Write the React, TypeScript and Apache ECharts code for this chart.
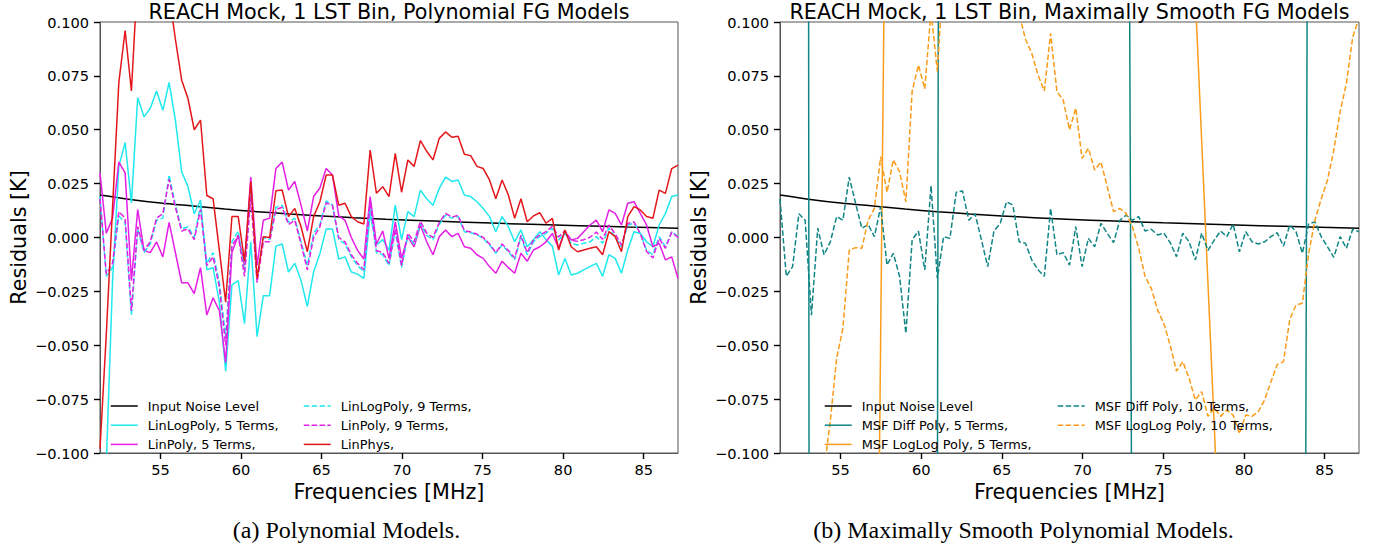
import React, { useEffect, useRef } from "react";
import * as echarts from "echarts";

// Frequency grid [MHz]
const freq = [
  51.25, 51.64, 52.03, 52.42, 52.81, 53.2, 53.59, 53.98, 54.37, 54.76,
  55.15, 55.54, 55.93, 56.32, 56.71, 57.1, 57.49, 57.88, 58.27, 58.66,
  59.05, 59.44, 59.83, 60.22, 60.61, 61.0, 61.39, 61.78, 62.17, 62.56,
  62.95, 63.34, 63.73, 64.12, 64.51, 64.9, 65.29, 65.68, 66.07, 66.46,
  66.85, 67.24, 67.63, 68.02, 68.41, 68.8, 69.19, 69.58, 69.97, 70.36,
  70.75, 71.14, 71.53, 71.92, 72.31, 72.7, 73.09, 73.48, 73.87, 74.26,
  74.65, 75.04, 75.43, 75.82, 76.21, 76.6, 76.99, 77.38, 77.77, 78.16,
  78.55, 78.94, 79.33, 79.72, 80.11, 80.5, 80.89, 81.28, 81.67, 82.06,
  82.45, 82.84, 83.23, 83.62, 84.01, 84.4, 84.79, 85.18, 85.57, 85.96,
  86.35, 86.74, 87.13,
];

// Input noise level (smooth curve)
const noiseFreq = [51.25, 53, 55, 57, 59, 61, 63, 65, 67, 69, 72, 75, 78, 81, 84, 87.13];
const noiseLevel = [0.0197, 0.0178, 0.016, 0.0146, 0.0132, 0.012, 0.0109, 0.01, 0.0092, 0.0085, 0.0076, 0.0068, 0.0061, 0.0055, 0.0049, 0.0043];

// Panel (a)
const linLogPoly5 = [
  -0.19, -0.105, -0.02, 0.033, 0.044, 0.016, 0.065, 0.056, 0.06, 0.068,
  0.059, 0.072, 0.0545, 0.0305, 0.0236, 0.011, 0.0174, -0.015, -0.014, -0.03,
  -0.062, -0.022, -0.02, -0.04, -0.002, -0.046, -0.027, -0.027, -0.004, -0.003,
  -0.016, -0.012, -0.02, -0.032, -0.016, -0.0075, 0.004, 0.004, -0.01, -0.009,
  -0.016, -0.017, -0.019, 0.011, -0.0035, -0.001, -0.006, 0.015, -0.001, 0.012,
  0.0097, 0.022, 0.018, 0.015, 0.0228, 0.028, 0.026, 0.0267, 0.0197, 0.019,
  0.0166, 0.0135, 0.0097, 0.0027, 0.0097, 0.005, -0.002, 0.0035, -0.0043, -0.001,
  0.0027, -0.001, -0.004, -0.0174, -0.0097, -0.0174, -0.0166, -0.015, -0.0135, -0.012,
  -0.018, -0.008, -0.0097, -0.0166, -0.0058, 0.0027, 0.0019, -0.002, -0.0043, 0.0058,
  0.0112, 0.019, 0.0197,
];
const linPoly5 = [
  0.03, 0.002, 0.009, 0.035, 0.03, -0.02, 0.013, -0.006, -0.007, -0.002,
  -0.009, 0.007, -0.007, -0.021, -0.021, -0.026, -0.014, -0.036, -0.028, -0.034,
  -0.058, -0.007, 0.001, -0.013, 0.028, -0.013, 0.008, 0.009, 0.032, 0.035,
  0.022, 0.026, 0.015, 0.003, 0.019, 0.023, 0.032, 0.029, 0.01, 0.008,
  0.0, -0.006, -0.01, 0.019, -0.003, 0.003, -0.0097, 0.0073, -0.0097, 0.0004,
  -0.0043, 0.0058, -0.002, -0.008, 0.0004, 0.0035, 0.0004, 0.0019, -0.0043, -0.005,
  -0.008, -0.0097, -0.0135, -0.0166, -0.011, -0.014, -0.0166, -0.0073, -0.011, -0.0058,
  -0.0043, -0.002, 0.0019, -0.005, 0.0027, -0.0012, -0.0004, 0.0027, 0.0058, 0.0081,
  0.0027, 0.0128, 0.0112, 0.0058, 0.0159, 0.0166, 0.0112, 0.0058, -0.0043, -0.0027,
  -0.0104, -0.009, -0.019,
];
const linLogPoly9 = [
  0.019, -0.018, -0.014, 0.01, 0.007, -0.036, 0.004, -0.007, -0.003, 0.008,
  0.009, 0.029, 0.015, 0.004, 0.005, 0.0, 0.015, -0.012, -0.007, -0.021,
  -0.046, -0.002, 0.003, -0.016, 0.021, -0.019, 0.0, -0.001, 0.014, 0.015,
  0.007, 0.009, -0.002, -0.013, 0.002, 0.006, 0.017, 0.015, -0.001, -0.003,
  -0.009, -0.013, -0.016, 0.015, -0.007, -0.008, -0.013, 0.003, -0.014, 0.001,
  -0.003, 0.0066, 0.001, -0.001, 0.006, 0.0104, 0.009, 0.0097, 0.0027, 0.0022,
  0.0012, -0.0004, -0.0035, -0.0073, -0.0035, -0.0066, -0.0104, 0.0004, -0.008, -0.002,
  0.0004, 0.0019, 0.0043, -0.0012, 0.0019, -0.0027, -0.0035, -0.0027, -0.002, 0.0004,
  -0.0027, 0.0043, 0.0004, -0.0043, 0.0058, 0.0066, 0.0019, -0.0058, -0.008, 0.0004,
  -0.0043, 0.0027, 0.0004,
];
const linPoly9 = [
  0.018, -0.017, -0.012, 0.012, 0.009, -0.034, 0.005, -0.006, -0.002, 0.009,
  0.011, 0.027, 0.014, 0.003, 0.004, -0.001, 0.013, -0.013, -0.009, -0.023,
  -0.05, -0.004, 0.001, -0.018, 0.019, -0.021, -0.002, -0.002, 0.013, 0.014,
  0.006, 0.008, -0.003, -0.015, 0.0, 0.005, 0.016, 0.015, 0.0, -0.002,
  -0.008, -0.012, -0.015, 0.016, -0.006, -0.007, -0.012, 0.004, -0.013, 0.002,
  -0.002, 0.0075, 0.002, 0.0, 0.007, 0.0112, 0.0095, 0.0102, 0.0032, 0.0026,
  0.0015, 0.0, -0.003, -0.007, -0.003, -0.006, -0.0095, 0.001, -0.007, -0.001,
  0.0012, 0.0027, 0.0052, 0.0002, 0.0032, -0.0012, -0.0018, -0.001, 0.0001, 0.0025,
  -0.0008, 0.0058, 0.0017, -0.0035, 0.0066, 0.0072, 0.0018, -0.0065, -0.0095, -0.0005,
  -0.005, 0.0025, 0.0,
];
const linPhys = [
  -0.098, -0.045, 0.014, 0.072, 0.096, 0.068, 0.122, 0.15, 0.16, 0.155,
  0.135, 0.113, 0.092, 0.073, 0.0645, 0.05, 0.0545, 0.0195, 0.018, -0.006,
  -0.03, 0.0097, 0.0097, -0.011, 0.026, -0.019, 0.0004, 0.0, 0.0217, 0.022,
  0.0097, 0.0135, 0.005, -0.0066, 0.0097, 0.0166, 0.029, 0.029, 0.015, 0.0159,
  0.0097, 0.0073, 0.0063, 0.0406, 0.0205, 0.0236, 0.019, 0.039, 0.021, 0.036,
  0.033, 0.045, 0.04, 0.036, 0.046, 0.049, 0.0465, 0.047, 0.0386, 0.038,
  0.033, 0.032, 0.0267, 0.018, 0.0267, 0.0197, 0.0089, 0.018, 0.0073, 0.01,
  0.0115, 0.0066, 0.0089, -0.0058, 0.0035, -0.0043, -0.0066, -0.0058, -0.005, -0.0043,
  -0.008, 0.0027, 0.0004, -0.0066, 0.0097, 0.0143, 0.0128, 0.0097, 0.0089, 0.022,
  0.0205, 0.032, 0.0336,
];

// Panel (b)
const msfDiff5 = [
  22, 15, 9.5, 5.0, 1.74, -1.26, -4.0, -6.5, -8.6, -10.4,
  -11.8, -12.8, -13.4, -13.6, -13.4, -12.9, -12.1, -11.1, -9.9, -8.6,
  -7.2, -5.9, -4.7, -3.6, -2.6, -0.144, 1.456, 3.0, 4.4, 5.7,
  6.8, 7.8, 8.6, 9.3, 9.8, 10.1, 10.3, 10.3, 10.1, 9.8,
  9.4, 8.9, 8.3, 7.6, 6.9, 6.1, 5.3, 4.5, 3.8, 3.3,
  2.8, 2.3, 1.8, 1.5, 1.26, 0.518, -0.222, -0.96, -1.7, -2.4,
  -3.0, -3.6, -4.1, -4.5, -4.8, -5.0, -5.1, -5.1, -5.05, -4.95,
  -4.8, -4.6, -4.4, -4.15, -3.9, -3.6, -3.3, -3.0, -2.7, -2.4,
  -2.05, -1.6, -1.15, -0.63, 0.34, 1.3, 2.3, 3.3, 4.4, 5.5,
  6.7, 7.9, 9.2,
];
const msfLogLog5 = [
  -3.92, -3.74, -3.55, -3.35, -3.15, -2.94, -2.72, -2.5, -2.25, -2.0,
  -1.75, -1.48, -1.2, -0.92, -0.63, -0.337, -0.044, 0.244, 0.52, 0.78,
  1.02, 1.24, 1.44, 1.62, 1.78, 1.92, 2.04, 2.14, 2.22, 2.28,
  2.32, 2.34, 2.35, 2.34, 2.31, 2.27, 2.21, 2.14, 2.06, 1.97,
  1.87, 1.77, 1.66, 1.55, 1.44, 1.33, 1.22, 1.11, 1.01, 0.91,
  0.82, 0.73, 0.65, 0.58, 0.51, 0.45, 0.4, 0.36, 0.33, 0.3,
  0.28, 0.26, 0.24, 0.22, 0.2, 0.178, 0.1113, 0.045, -0.0212, -0.0874,
  -0.154, -0.23, -0.32, -0.42, -0.53, -0.65, -0.78, -0.92, -1.07, -1.23,
  -1.4, -1.58, -1.77, -1.97, -2.18, -2.4, -2.63, -2.87, -3.12, -3.38,
  -3.65, -3.93, -4.22,
];
const msfDiff10 = [
  0.018, -0.018, -0.0135, 0.011, 0.008, -0.036, 0.0043, -0.008, -0.002, 0.0097,
  0.008, 0.028, 0.016, 0.0043, 0.006, 0.0004, 0.0143, -0.0128, -0.0073, -0.018,
  -0.0445, -0.001, 0.003, -0.015, 0.024, -0.019, 0.0004, -0.0004, 0.021, 0.0216,
  0.008, 0.011, -0.001, -0.0135, 0.003, 0.0066, 0.0166, 0.015, -0.002, -0.0027,
  -0.0104, -0.015, -0.018, 0.0135, -0.008, -0.007, -0.0128, 0.005, -0.0135, -0.0004,
  -0.0043, 0.0066, 0.002, -0.0024, 0.008, 0.0104, 0.008, 0.0097, 0.003, 0.0038,
  0.0012, 0.002, -0.0024, -0.0089, 0.002, -0.002, -0.0104, 0.002, -0.006, -0.0012,
  0.003, 0.0004, 0.0062, -0.0066, 0.0027, -0.002, -0.003, -0.002, 0.0004, 0.0022,
  -0.004, 0.0058, 0.0027, -0.0073, 0.0062, 0.0073, 0.0004, -0.0043, -0.0092, 0.0004,
  -0.005, 0.0038, 0.0027,
];
const msfLogLog10 = [
  -0.34, -0.3, -0.26, -0.22, -0.19, -0.16, -0.13, -0.108, -0.085, -0.056,
  -0.042, -0.006, -0.0047, -0.005, 0.008, 0.0135, 0.0375, 0.021, 0.036, 0.0305,
  0.0166, 0.068, 0.08, 0.069, 0.105, 0.077, 0.125, 0.15, 0.17, 0.185,
  0.195, 0.2, 0.198, 0.19, 0.175, 0.158, 0.14, 0.122, 0.104, 0.092,
  0.0855, 0.0754, 0.068, 0.0947, 0.0677, 0.0638, 0.05, 0.06, 0.0367, 0.0414,
  0.0313, 0.035, 0.0236, 0.012, 0.0135, 0.0112, 0.005, -0.005, -0.018, -0.0236,
  -0.0336, -0.04, -0.05, -0.062, -0.0576, -0.0653, -0.0754, -0.0715, -0.083, -0.079,
  -0.083, -0.08, -0.0824, -0.091, -0.0824, -0.083, -0.0808, -0.0754, -0.067, -0.059,
  -0.0576, -0.038, -0.0313, -0.0305, -0.0073, 0.008, 0.018, 0.0267, 0.0406, 0.0584,
  0.0715, 0.093, 0.102,
];

const xTicks = [55, 60, 65, 70, 75, 80, 85];

const FONT = "'DejaVu Sans', sans-serif";
const SERIF = "'Liberation Serif', 'Times New Roman', serif";
const C = {
  black: "#000000",
  cyan: "#1fe8ee",
  magenta: "#e41ee4",
  red: "#e3161b",
  teal: "#118585",
  orange: "#f89c1a",
};

const pairs = (xs: number[], ys: number[]) => xs.map((x, i) => [x, ys[i]]);

const fmtY = (v: number) => {
  if (Math.abs(v) < 1e-9) return "0.000";
  return (v < 0 ? "\u2212" : "") + Math.abs(v).toFixed(3);
};

function makeX(gridIndex: number) {
  return {
    type: "value",
    gridIndex,
    min: 51.25,
    max: 87.13,
    axisLine: { show: true, onZero: false, lineStyle: { color: "#555", width: 1 } },
    axisTick: { show: true, customValues: xTicks, length: 6, inside: false, lineStyle: { color: "#000", width: 1.4 } },
    axisLabel: { show: true, customValues: xTicks, margin: 9, color: "#000", fontSize: 14.6, fontFamily: FONT },
    splitLine: { show: false },
    name: "Frequencies [MHz]",
    nameLocation: "middle",
    nameGap: 27,
    nameTextStyle: { color: "#000", fontSize: 20.7, fontFamily: FONT },
  };
}

function makeY(gridIndex: number) {
  return {
    type: "value",
    gridIndex,
    min: -0.1,
    max: 0.1,
    interval: 0.025,
    axisLine: { show: true, onZero: false, lineStyle: { color: "#555", width: 1 } },
    axisTick: { show: true, length: 6, inside: false, lineStyle: { color: "#000", width: 1.4 } },
    axisLabel: { show: true, formatter: fmtY, margin: 11, color: "#000", fontSize: 14.6, fontFamily: FONT },
    splitLine: { show: false },
    name: "Residuals [K]",
    nameLocation: "middle",
    nameGap: 71,
    nameRotate: 90,
    nameTextStyle: { color: "#000", fontSize: 20.7, fontFamily: FONT },
  };
}

function line(name: string, data: any[], axis: number, color: string, dashed: boolean, smooth: any = false) {
  return {
    type: "line",
    name,
    xAxisIndex: axis,
    yAxisIndex: axis,
    data,
    symbol: "none",
    showSymbol: false,
    smooth,
    color,
    itemStyle: { color },
    lineStyle: { color, width: 1.5, type: dashed ? [5.5, 2.4] : "solid" },
    clip: true,
    silent: true,
    emphasis: { disabled: true },
  };
}

function legend(left: number, data: string[]) {
  return {
    left,
    top: 399,
    orient: "vertical",
    data,
    itemWidth: 27,
    itemHeight: 14,
    itemGap: 5.2,
    padding: 0,
    selectedMode: false,
    backgroundColor: "transparent",
    itemStyle: { opacity: 0, borderWidth: 0 },
    lineStyle: { width: 1.5, opacity: 1 },
    textStyle: { fontSize: 12.9, fontFamily: FONT, color: "#000", lineHeight: 14, padding: [0, 0, 0, 5] },
  };
}

const NOISE = "Input Noise Level";

const option: any = {
  animation: false,
  backgroundColor: "#ffffff",
  textStyle: { fontFamily: FONT },
  grid: [
    { left: 100, top: 22, width: 578, height: 431, show: true, borderColor: "#555", borderWidth: 1, containLabel: false, outerBoundsMode: "none" },
    { left: 780, top: 22, width: 579, height: 431, show: true, borderColor: "#555", borderWidth: 1, containLabel: false, outerBoundsMode: "none" },
  ],
  xAxis: [makeX(0), makeX(1)],
  yAxis: [makeY(0), makeY(1)],
  legend: [
    legend(110, [NOISE, "LinLogPoly, 5 Terms,", "LinPoly, 5 Terms,"]),
    legend(303, ["LinLogPoly, 9 Terms,", "LinPoly, 9 Terms,", "LinPhys,"]),
    legend(824, [NOISE, "MSF Diff Poly, 5 Terms,", "MSF LogLog Poly, 5 Terms,"]),
    legend(1057, ["MSF Diff Poly, 10 Terms,", "MSF LogLog Poly, 10 Terms,"]),
  ],
  series: [
    line(NOISE, pairs(noiseFreq, noiseLevel), 0, C.black, false, 0.3),
    line("LinLogPoly, 5 Terms,", pairs(freq, linLogPoly5), 0, C.cyan, false),
    line("LinPoly, 5 Terms,", pairs(freq, linPoly5), 0, C.magenta, false),
    line("LinLogPoly, 9 Terms,", pairs(freq, linLogPoly9), 0, C.cyan, true),
    line("LinPoly, 9 Terms,", pairs(freq, linPoly9), 0, C.magenta, true),
    line("LinPhys,", pairs(freq, linPhys), 0, C.red, false),
    line(NOISE, pairs(noiseFreq, noiseLevel), 1, C.black, false, 0.3),
    line("MSF Diff Poly, 5 Terms,", pairs(freq, msfDiff5), 1, C.teal, false),
    line("MSF LogLog Poly, 5 Terms,", pairs(freq, msfLogLog5), 1, C.orange, false),
    line("MSF Diff Poly, 10 Terms,", pairs(freq, msfDiff10), 1, C.teal, true),
    line("MSF LogLog Poly, 10 Terms,", pairs(freq, msfLogLog10), 1, C.orange, true),
  ],
  graphic: [
    {
      type: "text", x: 389, y: 12, silent: true,
      style: { text: "REACH Mock, 1 LST Bin, Polynomial FG Models", fontSize: 20.7, fontFamily: FONT, fill: "#000", align: "center", verticalAlign: "middle", textAlign: "center", textVerticalAlign: "middle" },
    },
    {
      type: "text", x: 1069.5, y: 12, silent: true,
      style: { text: "REACH Mock, 1 LST Bin, Maximally Smooth FG Models", fontSize: 20.7, fontFamily: FONT, fill: "#000", align: "center", verticalAlign: "middle", textAlign: "center", textVerticalAlign: "middle" },
    },
    {
      type: "text", x: 346.5, y: 530, silent: true,
      style: { text: "(a) Polynomial Models.", fontSize: 24, fontFamily: SERIF, fill: "#000", align: "center", verticalAlign: "middle", textAlign: "center", textVerticalAlign: "middle" },
    },
    {
      type: "text", x: 1023.5, y: 530, silent: true,
      style: { text: "(b) Maximally Smooth Polynomial Models.", fontSize: 24, fontFamily: SERIF, fill: "#000", align: "center", verticalAlign: "middle", textAlign: "center", textVerticalAlign: "middle" },
    },
  ],
};

export default function App() {
  const ref = useRef<HTMLDivElement>(null);
  useEffect(() => {
    if (!ref.current) return;
    const chart = echarts.init(ref.current, undefined, { renderer: "svg" });
    chart.setOption(option);
    return () => {
      chart.dispose();
    };
  }, []);
  return (
    <div
      ref={ref}
      style={{ position: "fixed", left: 0, top: 0, width: 1380, height: 548, background: "#fff" }}
    />
  );
}
